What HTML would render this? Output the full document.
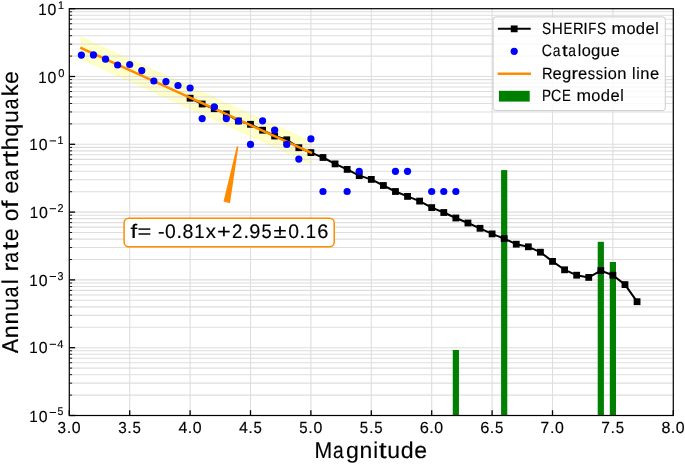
<!DOCTYPE html>
<html><head><meta charset="utf-8"><style>
html,body{margin:0;padding:0;background:#fff;}
svg{display:block;will-change:transform;}
text{font-family:"Liberation Sans",sans-serif;text-rendering:geometricPrecision;}
</style></head><body>
<svg width="685" height="464" viewBox="0 0 685 464">
<defs><filter id="soft" x="0" y="0" width="685" height="464" filterUnits="userSpaceOnUse"><feGaussianBlur stdDeviation="0.3"/></filter></defs>
<rect width="685" height="464" fill="#fff"/>
<g filter="url(#soft)">
<polygon points="81.38,37.39 310.90,141.73 310.90,163.43 81.38,59.08" fill="#ffff00" fill-opacity="0.2" stroke="#ffff00" stroke-opacity="0.2" stroke-width="1.33"/>
<line x1="69.30" y1="8.70" x2="69.30" y2="415.50" stroke="#dedede" stroke-width="1.1"/>
<line x1="129.70" y1="8.70" x2="129.70" y2="415.50" stroke="#dedede" stroke-width="1.1"/>
<line x1="190.10" y1="8.70" x2="190.10" y2="415.50" stroke="#dedede" stroke-width="1.1"/>
<line x1="250.50" y1="8.70" x2="250.50" y2="415.50" stroke="#dedede" stroke-width="1.1"/>
<line x1="310.90" y1="8.70" x2="310.90" y2="415.50" stroke="#dedede" stroke-width="1.1"/>
<line x1="371.30" y1="8.70" x2="371.30" y2="415.50" stroke="#dedede" stroke-width="1.1"/>
<line x1="431.70" y1="8.70" x2="431.70" y2="415.50" stroke="#dedede" stroke-width="1.1"/>
<line x1="492.10" y1="8.70" x2="492.10" y2="415.50" stroke="#dedede" stroke-width="1.1"/>
<line x1="552.50" y1="8.70" x2="552.50" y2="415.50" stroke="#dedede" stroke-width="1.1"/>
<line x1="612.90" y1="8.70" x2="612.90" y2="415.50" stroke="#dedede" stroke-width="1.1"/>
<line x1="673.30" y1="8.70" x2="673.30" y2="415.50" stroke="#dedede" stroke-width="1.1"/>
<line x1="69.30" y1="415.50" x2="673.30" y2="415.50" stroke="#dedede" stroke-width="1.1"/>
<line x1="69.30" y1="395.09" x2="673.30" y2="395.09" stroke="#dedede" stroke-width="1.1"/>
<line x1="69.30" y1="383.15" x2="673.30" y2="383.15" stroke="#dedede" stroke-width="1.1"/>
<line x1="69.30" y1="374.68" x2="673.30" y2="374.68" stroke="#dedede" stroke-width="1.1"/>
<line x1="69.30" y1="368.11" x2="673.30" y2="368.11" stroke="#dedede" stroke-width="1.1"/>
<line x1="69.30" y1="362.74" x2="673.30" y2="362.74" stroke="#dedede" stroke-width="1.1"/>
<line x1="69.30" y1="358.20" x2="673.30" y2="358.20" stroke="#dedede" stroke-width="1.1"/>
<line x1="69.30" y1="354.27" x2="673.30" y2="354.27" stroke="#dedede" stroke-width="1.1"/>
<line x1="69.30" y1="350.80" x2="673.30" y2="350.80" stroke="#dedede" stroke-width="1.1"/>
<line x1="69.30" y1="347.70" x2="673.30" y2="347.70" stroke="#dedede" stroke-width="1.1"/>
<line x1="69.30" y1="327.29" x2="673.30" y2="327.29" stroke="#dedede" stroke-width="1.1"/>
<line x1="69.30" y1="315.35" x2="673.30" y2="315.35" stroke="#dedede" stroke-width="1.1"/>
<line x1="69.30" y1="306.88" x2="673.30" y2="306.88" stroke="#dedede" stroke-width="1.1"/>
<line x1="69.30" y1="300.31" x2="673.30" y2="300.31" stroke="#dedede" stroke-width="1.1"/>
<line x1="69.30" y1="294.94" x2="673.30" y2="294.94" stroke="#dedede" stroke-width="1.1"/>
<line x1="69.30" y1="290.40" x2="673.30" y2="290.40" stroke="#dedede" stroke-width="1.1"/>
<line x1="69.30" y1="286.47" x2="673.30" y2="286.47" stroke="#dedede" stroke-width="1.1"/>
<line x1="69.30" y1="283.00" x2="673.30" y2="283.00" stroke="#dedede" stroke-width="1.1"/>
<line x1="69.30" y1="279.90" x2="673.30" y2="279.90" stroke="#dedede" stroke-width="1.1"/>
<line x1="69.30" y1="259.49" x2="673.30" y2="259.49" stroke="#dedede" stroke-width="1.1"/>
<line x1="69.30" y1="247.55" x2="673.30" y2="247.55" stroke="#dedede" stroke-width="1.1"/>
<line x1="69.30" y1="239.08" x2="673.30" y2="239.08" stroke="#dedede" stroke-width="1.1"/>
<line x1="69.30" y1="232.51" x2="673.30" y2="232.51" stroke="#dedede" stroke-width="1.1"/>
<line x1="69.30" y1="227.14" x2="673.30" y2="227.14" stroke="#dedede" stroke-width="1.1"/>
<line x1="69.30" y1="222.60" x2="673.30" y2="222.60" stroke="#dedede" stroke-width="1.1"/>
<line x1="69.30" y1="218.67" x2="673.30" y2="218.67" stroke="#dedede" stroke-width="1.1"/>
<line x1="69.30" y1="215.20" x2="673.30" y2="215.20" stroke="#dedede" stroke-width="1.1"/>
<line x1="69.30" y1="212.10" x2="673.30" y2="212.10" stroke="#dedede" stroke-width="1.1"/>
<line x1="69.30" y1="191.69" x2="673.30" y2="191.69" stroke="#dedede" stroke-width="1.1"/>
<line x1="69.30" y1="179.75" x2="673.30" y2="179.75" stroke="#dedede" stroke-width="1.1"/>
<line x1="69.30" y1="171.28" x2="673.30" y2="171.28" stroke="#dedede" stroke-width="1.1"/>
<line x1="69.30" y1="164.71" x2="673.30" y2="164.71" stroke="#dedede" stroke-width="1.1"/>
<line x1="69.30" y1="159.34" x2="673.30" y2="159.34" stroke="#dedede" stroke-width="1.1"/>
<line x1="69.30" y1="154.80" x2="673.30" y2="154.80" stroke="#dedede" stroke-width="1.1"/>
<line x1="69.30" y1="150.87" x2="673.30" y2="150.87" stroke="#dedede" stroke-width="1.1"/>
<line x1="69.30" y1="147.40" x2="673.30" y2="147.40" stroke="#dedede" stroke-width="1.1"/>
<line x1="69.30" y1="144.30" x2="673.30" y2="144.30" stroke="#dedede" stroke-width="1.1"/>
<line x1="69.30" y1="123.89" x2="673.30" y2="123.89" stroke="#dedede" stroke-width="1.1"/>
<line x1="69.30" y1="111.95" x2="673.30" y2="111.95" stroke="#dedede" stroke-width="1.1"/>
<line x1="69.30" y1="103.48" x2="673.30" y2="103.48" stroke="#dedede" stroke-width="1.1"/>
<line x1="69.30" y1="96.91" x2="673.30" y2="96.91" stroke="#dedede" stroke-width="1.1"/>
<line x1="69.30" y1="91.54" x2="673.30" y2="91.54" stroke="#dedede" stroke-width="1.1"/>
<line x1="69.30" y1="87.00" x2="673.30" y2="87.00" stroke="#dedede" stroke-width="1.1"/>
<line x1="69.30" y1="83.07" x2="673.30" y2="83.07" stroke="#dedede" stroke-width="1.1"/>
<line x1="69.30" y1="79.60" x2="673.30" y2="79.60" stroke="#dedede" stroke-width="1.1"/>
<line x1="69.30" y1="76.50" x2="673.30" y2="76.50" stroke="#dedede" stroke-width="1.1"/>
<line x1="69.30" y1="56.09" x2="673.30" y2="56.09" stroke="#dedede" stroke-width="1.1"/>
<line x1="69.30" y1="44.15" x2="673.30" y2="44.15" stroke="#dedede" stroke-width="1.1"/>
<line x1="69.30" y1="35.68" x2="673.30" y2="35.68" stroke="#dedede" stroke-width="1.1"/>
<line x1="69.30" y1="29.11" x2="673.30" y2="29.11" stroke="#dedede" stroke-width="1.1"/>
<line x1="69.30" y1="23.74" x2="673.30" y2="23.74" stroke="#dedede" stroke-width="1.1"/>
<line x1="69.30" y1="19.20" x2="673.30" y2="19.20" stroke="#dedede" stroke-width="1.1"/>
<line x1="69.30" y1="15.27" x2="673.30" y2="15.27" stroke="#dedede" stroke-width="1.1"/>
<line x1="69.30" y1="11.80" x2="673.30" y2="11.80" stroke="#dedede" stroke-width="1.1"/>
<line x1="69.30" y1="415.50" x2="69.30" y2="410.20" stroke="#000" stroke-width="1.3"/>
<line x1="129.70" y1="415.50" x2="129.70" y2="410.20" stroke="#000" stroke-width="1.3"/>
<line x1="190.10" y1="415.50" x2="190.10" y2="410.20" stroke="#000" stroke-width="1.3"/>
<line x1="250.50" y1="415.50" x2="250.50" y2="410.20" stroke="#000" stroke-width="1.3"/>
<line x1="310.90" y1="415.50" x2="310.90" y2="410.20" stroke="#000" stroke-width="1.3"/>
<line x1="371.30" y1="415.50" x2="371.30" y2="410.20" stroke="#000" stroke-width="1.3"/>
<line x1="431.70" y1="415.50" x2="431.70" y2="410.20" stroke="#000" stroke-width="1.3"/>
<line x1="492.10" y1="415.50" x2="492.10" y2="410.20" stroke="#000" stroke-width="1.3"/>
<line x1="552.50" y1="415.50" x2="552.50" y2="410.20" stroke="#000" stroke-width="1.3"/>
<line x1="612.90" y1="415.50" x2="612.90" y2="410.20" stroke="#000" stroke-width="1.3"/>
<line x1="673.30" y1="415.50" x2="673.30" y2="410.20" stroke="#000" stroke-width="1.3"/>
<line x1="69.30" y1="415.50" x2="75.10" y2="415.50" stroke="#000" stroke-width="1.3"/>
<line x1="69.30" y1="395.09" x2="72.10" y2="395.09" stroke="#000" stroke-width="0.9"/>
<line x1="69.30" y1="383.15" x2="72.10" y2="383.15" stroke="#000" stroke-width="0.9"/>
<line x1="69.30" y1="374.68" x2="72.10" y2="374.68" stroke="#000" stroke-width="0.9"/>
<line x1="69.30" y1="368.11" x2="72.10" y2="368.11" stroke="#000" stroke-width="0.9"/>
<line x1="69.30" y1="362.74" x2="72.10" y2="362.74" stroke="#000" stroke-width="0.9"/>
<line x1="69.30" y1="358.20" x2="72.10" y2="358.20" stroke="#000" stroke-width="0.9"/>
<line x1="69.30" y1="354.27" x2="72.10" y2="354.27" stroke="#000" stroke-width="0.9"/>
<line x1="69.30" y1="350.80" x2="72.10" y2="350.80" stroke="#000" stroke-width="0.9"/>
<line x1="69.30" y1="347.70" x2="75.10" y2="347.70" stroke="#000" stroke-width="1.3"/>
<line x1="69.30" y1="327.29" x2="72.10" y2="327.29" stroke="#000" stroke-width="0.9"/>
<line x1="69.30" y1="315.35" x2="72.10" y2="315.35" stroke="#000" stroke-width="0.9"/>
<line x1="69.30" y1="306.88" x2="72.10" y2="306.88" stroke="#000" stroke-width="0.9"/>
<line x1="69.30" y1="300.31" x2="72.10" y2="300.31" stroke="#000" stroke-width="0.9"/>
<line x1="69.30" y1="294.94" x2="72.10" y2="294.94" stroke="#000" stroke-width="0.9"/>
<line x1="69.30" y1="290.40" x2="72.10" y2="290.40" stroke="#000" stroke-width="0.9"/>
<line x1="69.30" y1="286.47" x2="72.10" y2="286.47" stroke="#000" stroke-width="0.9"/>
<line x1="69.30" y1="283.00" x2="72.10" y2="283.00" stroke="#000" stroke-width="0.9"/>
<line x1="69.30" y1="279.90" x2="75.10" y2="279.90" stroke="#000" stroke-width="1.3"/>
<line x1="69.30" y1="259.49" x2="72.10" y2="259.49" stroke="#000" stroke-width="0.9"/>
<line x1="69.30" y1="247.55" x2="72.10" y2="247.55" stroke="#000" stroke-width="0.9"/>
<line x1="69.30" y1="239.08" x2="72.10" y2="239.08" stroke="#000" stroke-width="0.9"/>
<line x1="69.30" y1="232.51" x2="72.10" y2="232.51" stroke="#000" stroke-width="0.9"/>
<line x1="69.30" y1="227.14" x2="72.10" y2="227.14" stroke="#000" stroke-width="0.9"/>
<line x1="69.30" y1="222.60" x2="72.10" y2="222.60" stroke="#000" stroke-width="0.9"/>
<line x1="69.30" y1="218.67" x2="72.10" y2="218.67" stroke="#000" stroke-width="0.9"/>
<line x1="69.30" y1="215.20" x2="72.10" y2="215.20" stroke="#000" stroke-width="0.9"/>
<line x1="69.30" y1="212.10" x2="75.10" y2="212.10" stroke="#000" stroke-width="1.3"/>
<line x1="69.30" y1="191.69" x2="72.10" y2="191.69" stroke="#000" stroke-width="0.9"/>
<line x1="69.30" y1="179.75" x2="72.10" y2="179.75" stroke="#000" stroke-width="0.9"/>
<line x1="69.30" y1="171.28" x2="72.10" y2="171.28" stroke="#000" stroke-width="0.9"/>
<line x1="69.30" y1="164.71" x2="72.10" y2="164.71" stroke="#000" stroke-width="0.9"/>
<line x1="69.30" y1="159.34" x2="72.10" y2="159.34" stroke="#000" stroke-width="0.9"/>
<line x1="69.30" y1="154.80" x2="72.10" y2="154.80" stroke="#000" stroke-width="0.9"/>
<line x1="69.30" y1="150.87" x2="72.10" y2="150.87" stroke="#000" stroke-width="0.9"/>
<line x1="69.30" y1="147.40" x2="72.10" y2="147.40" stroke="#000" stroke-width="0.9"/>
<line x1="69.30" y1="144.30" x2="75.10" y2="144.30" stroke="#000" stroke-width="1.3"/>
<line x1="69.30" y1="123.89" x2="72.10" y2="123.89" stroke="#000" stroke-width="0.9"/>
<line x1="69.30" y1="111.95" x2="72.10" y2="111.95" stroke="#000" stroke-width="0.9"/>
<line x1="69.30" y1="103.48" x2="72.10" y2="103.48" stroke="#000" stroke-width="0.9"/>
<line x1="69.30" y1="96.91" x2="72.10" y2="96.91" stroke="#000" stroke-width="0.9"/>
<line x1="69.30" y1="91.54" x2="72.10" y2="91.54" stroke="#000" stroke-width="0.9"/>
<line x1="69.30" y1="87.00" x2="72.10" y2="87.00" stroke="#000" stroke-width="0.9"/>
<line x1="69.30" y1="83.07" x2="72.10" y2="83.07" stroke="#000" stroke-width="0.9"/>
<line x1="69.30" y1="79.60" x2="72.10" y2="79.60" stroke="#000" stroke-width="0.9"/>
<line x1="69.30" y1="76.50" x2="75.10" y2="76.50" stroke="#000" stroke-width="1.3"/>
<line x1="69.30" y1="56.09" x2="72.10" y2="56.09" stroke="#000" stroke-width="0.9"/>
<line x1="69.30" y1="44.15" x2="72.10" y2="44.15" stroke="#000" stroke-width="0.9"/>
<line x1="69.30" y1="35.68" x2="72.10" y2="35.68" stroke="#000" stroke-width="0.9"/>
<line x1="69.30" y1="29.11" x2="72.10" y2="29.11" stroke="#000" stroke-width="0.9"/>
<line x1="69.30" y1="23.74" x2="72.10" y2="23.74" stroke="#000" stroke-width="0.9"/>
<line x1="69.30" y1="19.20" x2="72.10" y2="19.20" stroke="#000" stroke-width="0.9"/>
<line x1="69.30" y1="15.27" x2="72.10" y2="15.27" stroke="#000" stroke-width="0.9"/>
<line x1="69.30" y1="11.80" x2="72.10" y2="11.80" stroke="#000" stroke-width="0.9"/>
<line x1="69.30" y1="8.70" x2="75.10" y2="8.70" stroke="#000" stroke-width="1.3"/>
<rect x="452.76" y="350.00" width="6.2" height="65.50" fill="#008000"/>
<rect x="501.08" y="170.10" width="6.2" height="245.40" fill="#008000"/>
<rect x="597.72" y="241.80" width="6.2" height="173.70" fill="#008000"/>
<rect x="609.80" y="262.00" width="6.2" height="153.50" fill="#008000"/>
<path d="M190.10,98.20 L202.18,104.00 L214.26,108.70 L226.34,113.90 L238.42,121.00 L250.50,124.30 L262.58,130.20 L274.66,136.00 L286.74,139.80 L298.82,147.70 L310.90,152.60 L322.98,157.50 L335.06,163.90 L347.14,169.40 L359.22,175.60 L371.30,179.40 L383.38,185.50 L395.46,191.50 L407.54,196.40 L419.62,201.10 L431.70,207.60 L443.78,212.50 L455.86,218.00 L467.94,223.00 L480.02,228.30 L492.10,233.90 L504.18,238.60 L516.26,244.20 L528.34,246.80 L540.42,252.20 L552.50,261.40 L564.58,269.80 L576.66,275.20 L588.74,277.40 L600.82,270.60 L612.90,275.20 L624.98,284.60 L637.06,301.70" fill="none" stroke="#000" stroke-width="2" stroke-linejoin="round"/>
<rect x="186.70" y="94.80" width="6.8" height="6.8" fill="#000"/>
<rect x="198.78" y="100.60" width="6.8" height="6.8" fill="#000"/>
<rect x="210.86" y="105.30" width="6.8" height="6.8" fill="#000"/>
<rect x="222.94" y="110.50" width="6.8" height="6.8" fill="#000"/>
<rect x="235.02" y="117.60" width="6.8" height="6.8" fill="#000"/>
<rect x="247.10" y="120.90" width="6.8" height="6.8" fill="#000"/>
<rect x="259.18" y="126.80" width="6.8" height="6.8" fill="#000"/>
<rect x="271.26" y="132.60" width="6.8" height="6.8" fill="#000"/>
<rect x="283.34" y="136.40" width="6.8" height="6.8" fill="#000"/>
<rect x="295.42" y="144.30" width="6.8" height="6.8" fill="#000"/>
<rect x="307.50" y="149.20" width="6.8" height="6.8" fill="#000"/>
<rect x="319.58" y="154.10" width="6.8" height="6.8" fill="#000"/>
<rect x="331.66" y="160.50" width="6.8" height="6.8" fill="#000"/>
<rect x="343.74" y="166.00" width="6.8" height="6.8" fill="#000"/>
<rect x="355.82" y="172.20" width="6.8" height="6.8" fill="#000"/>
<rect x="367.90" y="176.00" width="6.8" height="6.8" fill="#000"/>
<rect x="379.98" y="182.10" width="6.8" height="6.8" fill="#000"/>
<rect x="392.06" y="188.10" width="6.8" height="6.8" fill="#000"/>
<rect x="404.14" y="193.00" width="6.8" height="6.8" fill="#000"/>
<rect x="416.22" y="197.70" width="6.8" height="6.8" fill="#000"/>
<rect x="428.30" y="204.20" width="6.8" height="6.8" fill="#000"/>
<rect x="440.38" y="209.10" width="6.8" height="6.8" fill="#000"/>
<rect x="452.46" y="214.60" width="6.8" height="6.8" fill="#000"/>
<rect x="464.54" y="219.60" width="6.8" height="6.8" fill="#000"/>
<rect x="476.62" y="224.90" width="6.8" height="6.8" fill="#000"/>
<rect x="488.70" y="230.50" width="6.8" height="6.8" fill="#000"/>
<rect x="500.78" y="235.20" width="6.8" height="6.8" fill="#000"/>
<rect x="512.86" y="240.80" width="6.8" height="6.8" fill="#000"/>
<rect x="524.94" y="243.40" width="6.8" height="6.8" fill="#000"/>
<rect x="537.02" y="248.80" width="6.8" height="6.8" fill="#000"/>
<rect x="549.10" y="258.00" width="6.8" height="6.8" fill="#000"/>
<rect x="561.18" y="266.40" width="6.8" height="6.8" fill="#000"/>
<rect x="573.26" y="271.80" width="6.8" height="6.8" fill="#000"/>
<rect x="585.34" y="274.00" width="6.8" height="6.8" fill="#000"/>
<rect x="597.42" y="267.20" width="6.8" height="6.8" fill="#000"/>
<rect x="609.50" y="271.80" width="6.8" height="6.8" fill="#000"/>
<rect x="621.58" y="281.20" width="6.8" height="6.8" fill="#000"/>
<rect x="633.66" y="298.30" width="6.8" height="6.8" fill="#000"/>
<line x1="81.38" y1="48.24" x2="310.90" y2="152.58" stroke="#ff8c00" stroke-width="2.5" stroke-linecap="square"/>
<circle cx="81.38" cy="55.10" r="3.6" fill="#0000ff"/>
<circle cx="93.46" cy="54.90" r="3.6" fill="#0000ff"/>
<circle cx="105.54" cy="59.20" r="3.6" fill="#0000ff"/>
<circle cx="117.62" cy="65.00" r="3.6" fill="#0000ff"/>
<circle cx="129.70" cy="64.50" r="3.6" fill="#0000ff"/>
<circle cx="141.78" cy="70.60" r="3.6" fill="#0000ff"/>
<circle cx="153.86" cy="81.00" r="3.6" fill="#0000ff"/>
<circle cx="165.94" cy="81.60" r="3.6" fill="#0000ff"/>
<circle cx="178.02" cy="85.50" r="3.6" fill="#0000ff"/>
<circle cx="190.10" cy="88.00" r="3.6" fill="#0000ff"/>
<circle cx="202.18" cy="118.60" r="3.6" fill="#0000ff"/>
<circle cx="214.26" cy="106.80" r="3.6" fill="#0000ff"/>
<circle cx="226.34" cy="118.60" r="3.6" fill="#0000ff"/>
<circle cx="238.42" cy="121.00" r="3.6" fill="#0000ff"/>
<circle cx="250.50" cy="144.40" r="3.6" fill="#0000ff"/>
<circle cx="262.58" cy="120.80" r="3.6" fill="#0000ff"/>
<circle cx="274.66" cy="130.20" r="3.6" fill="#0000ff"/>
<circle cx="286.74" cy="144.40" r="3.6" fill="#0000ff"/>
<circle cx="298.82" cy="159.10" r="3.6" fill="#0000ff"/>
<circle cx="310.90" cy="138.90" r="3.6" fill="#0000ff"/>
<circle cx="322.98" cy="191.50" r="3.6" fill="#0000ff"/>
<circle cx="347.14" cy="191.50" r="3.6" fill="#0000ff"/>
<circle cx="359.22" cy="171.30" r="3.6" fill="#0000ff"/>
<circle cx="395.46" cy="171.30" r="3.6" fill="#0000ff"/>
<circle cx="407.54" cy="171.30" r="3.6" fill="#0000ff"/>
<circle cx="431.70" cy="191.50" r="3.6" fill="#0000ff"/>
<circle cx="443.78" cy="191.50" r="3.6" fill="#0000ff"/>
<circle cx="455.86" cy="191.50" r="3.6" fill="#0000ff"/>
<polygon points="223.5,201.6 230.0,203.2 238.4,146.6 236.8,146.6" fill="#ff8c00"/>
<rect x="124.1" y="218.2" width="210.1" height="28.6" rx="4.7" ry="4.7" fill="#fff" stroke="#ff8c00" stroke-width="1.5"/>
<text y="238.20" font-size="19.58" fill="#000" stroke="#000" stroke-width="0.15"><tspan x="130.46" textLength="6.68" lengthAdjust="spacingAndGlyphs">f</tspan><tspan x="137.62" textLength="13.79" lengthAdjust="spacingAndGlyphs">=</tspan><tspan x="152.18"> </tspan><tspan x="158.02" textLength="6.58" lengthAdjust="spacingAndGlyphs">-</tspan><tspan x="165.07" textLength="10.74" lengthAdjust="spacingAndGlyphs">0</tspan><tspan x="176.42" textLength="5.51" lengthAdjust="spacingAndGlyphs">.</tspan><tspan x="182.49" textLength="10.86" lengthAdjust="spacingAndGlyphs">8</tspan><tspan x="194.36" textLength="10.26" lengthAdjust="spacingAndGlyphs">1</tspan><tspan x="205.71" textLength="10.16" lengthAdjust="spacingAndGlyphs">x</tspan><tspan x="217.05" textLength="13.79" lengthAdjust="spacingAndGlyphs">+</tspan><tspan x="232.02" textLength="10.35" lengthAdjust="spacingAndGlyphs">2</tspan><tspan x="243.42" textLength="5.51" lengthAdjust="spacingAndGlyphs">.</tspan><tspan x="249.31" textLength="11.09" lengthAdjust="spacingAndGlyphs">9</tspan><tspan x="261.43" textLength="10.14" lengthAdjust="spacingAndGlyphs">5</tspan><tspan x="273.60" textLength="12.96" lengthAdjust="spacingAndGlyphs">±</tspan><tspan x="288.21" textLength="10.74" lengthAdjust="spacingAndGlyphs">0</tspan><tspan x="299.56" textLength="5.51" lengthAdjust="spacingAndGlyphs">.</tspan><tspan x="305.85" textLength="10.26" lengthAdjust="spacingAndGlyphs">1</tspan><tspan x="317.16" textLength="11.12" lengthAdjust="spacingAndGlyphs">6</tspan></text>
<rect x="69.30" y="8.70" width="604.00" height="406.80" fill="none" stroke="#000" stroke-width="1.2"/>
<rect x="493.1" y="16.9" width="172.2" height="93.7" rx="2.6" ry="2.6" fill="#fff" fill-opacity="0.8" stroke="#cccccc" stroke-width="1"/>
<line x1="498.9" y1="28.85" x2="529.7" y2="28.85" stroke="#000" stroke-width="2" stroke-linecap="square"/>
<rect x="510.80" y="25.45" width="6.8" height="6.8" fill="#000"/>
<circle cx="514.2" cy="51.3" r="3.6" fill="#0000ff"/>
<line x1="498.9" y1="73.75" x2="529.7" y2="73.75" stroke="#ff8c00" stroke-width="2.5" stroke-linecap="square"/>
<rect x="498.9" y="90.8" width="30.8" height="10.8" fill="#008000"/>
<text y="33.70" font-size="16.42" fill="#000" stroke="#000" stroke-width="0.15"><tspan x="542.09" textLength="9.13" lengthAdjust="spacingAndGlyphs">S</tspan><tspan x="551.70" textLength="11.03" lengthAdjust="spacingAndGlyphs">H</tspan><tspan x="563.40" textLength="8.87" lengthAdjust="spacingAndGlyphs">E</tspan><tspan x="572.99" textLength="10.60" lengthAdjust="spacingAndGlyphs">R</tspan><tspan x="583.36" textLength="4.51" lengthAdjust="spacingAndGlyphs">I</tspan><tspan x="588.30" textLength="8.04" lengthAdjust="spacingAndGlyphs">F</tspan><tspan x="597.10" textLength="9.13" lengthAdjust="spacingAndGlyphs">S</tspan><tspan x="606.45"> </tspan><tspan x="611.56" textLength="14.57" lengthAdjust="spacingAndGlyphs">m</tspan><tspan x="626.44" textLength="9.08" lengthAdjust="spacingAndGlyphs">o</tspan><tspan x="635.82" textLength="9.28" lengthAdjust="spacingAndGlyphs">d</tspan><tspan x="645.56" textLength="9.22" lengthAdjust="spacingAndGlyphs">e</tspan><tspan x="655.25" textLength="3.49" lengthAdjust="spacingAndGlyphs">l</tspan></text>
<text y="56.15" font-size="16.42" fill="#000" stroke="#000" stroke-width="0.15"><tspan x="541.84" textLength="10.29" lengthAdjust="spacingAndGlyphs">C</tspan><tspan x="552.75" textLength="7.68" lengthAdjust="spacingAndGlyphs">a</tspan><tspan x="561.93" textLength="5.70" lengthAdjust="spacingAndGlyphs">t</tspan><tspan x="568.18" textLength="7.68" lengthAdjust="spacingAndGlyphs">a</tspan><tspan x="577.64" textLength="3.49" lengthAdjust="spacingAndGlyphs">l</tspan><tspan x="581.68" textLength="9.08" lengthAdjust="spacingAndGlyphs">o</tspan><tspan x="591.05" textLength="9.28" lengthAdjust="spacingAndGlyphs">g</tspan><tspan x="600.88" textLength="9.20" lengthAdjust="spacingAndGlyphs">u</tspan><tspan x="610.52" textLength="9.22" lengthAdjust="spacingAndGlyphs">e</tspan></text>
<text y="78.60" font-size="16.42" fill="#000" stroke="#000" stroke-width="0.15"><tspan x="542.00" textLength="10.60" lengthAdjust="spacingAndGlyphs">R</tspan><tspan x="552.51" textLength="9.22" lengthAdjust="spacingAndGlyphs">e</tspan><tspan x="561.96" textLength="9.28" lengthAdjust="spacingAndGlyphs">g</tspan><tspan x="571.64" textLength="6.55" lengthAdjust="spacingAndGlyphs">r</tspan><tspan x="578.01" textLength="9.22" lengthAdjust="spacingAndGlyphs">e</tspan><tspan x="587.73" textLength="7.36" lengthAdjust="spacingAndGlyphs">s</tspan><tspan x="595.73" textLength="7.36" lengthAdjust="spacingAndGlyphs">s</tspan><tspan x="603.70" textLength="3.49" lengthAdjust="spacingAndGlyphs">i</tspan><tspan x="607.73" textLength="9.08" lengthAdjust="spacingAndGlyphs">o</tspan><tspan x="617.25" textLength="9.20" lengthAdjust="spacingAndGlyphs">n</tspan><tspan x="626.69"> </tspan><tspan x="631.96" textLength="3.49" lengthAdjust="spacingAndGlyphs">l</tspan><tspan x="636.23" textLength="3.49" lengthAdjust="spacingAndGlyphs">i</tspan><tspan x="640.39" textLength="9.20" lengthAdjust="spacingAndGlyphs">n</tspan><tspan x="649.97" textLength="9.22" lengthAdjust="spacingAndGlyphs">e</tspan></text>
<text y="101.05" font-size="16.42" fill="#000" stroke="#000" stroke-width="0.15"><tspan x="542.09" textLength="9.05" lengthAdjust="spacingAndGlyphs">P</tspan><tspan x="551.09" textLength="10.29" lengthAdjust="spacingAndGlyphs">C</tspan><tspan x="562.09" textLength="8.87" lengthAdjust="spacingAndGlyphs">E</tspan><tspan x="571.37"> </tspan><tspan x="576.49" textLength="14.57" lengthAdjust="spacingAndGlyphs">m</tspan><tspan x="591.37" textLength="9.08" lengthAdjust="spacingAndGlyphs">o</tspan><tspan x="600.74" textLength="9.28" lengthAdjust="spacingAndGlyphs">d</tspan><tspan x="610.48" textLength="9.22" lengthAdjust="spacingAndGlyphs">e</tspan><tspan x="620.17" textLength="3.49" lengthAdjust="spacingAndGlyphs">l</tspan></text>
<text y="433.00" font-size="16.16" fill="#000" stroke="#000" stroke-width="0.15"><tspan x="57.59" textLength="8.50" lengthAdjust="spacingAndGlyphs">3</tspan><tspan x="66.75" textLength="4.54" lengthAdjust="spacingAndGlyphs">.</tspan><tspan x="71.80" textLength="8.85" lengthAdjust="spacingAndGlyphs">0</tspan></text>
<text y="433.00" font-size="16.16" fill="#000" stroke="#000" stroke-width="0.15"><tspan x="118.15" textLength="8.50" lengthAdjust="spacingAndGlyphs">3</tspan><tspan x="127.31" textLength="4.54" lengthAdjust="spacingAndGlyphs">.</tspan><tspan x="132.55" textLength="8.35" lengthAdjust="spacingAndGlyphs">5</tspan></text>
<text y="433.00" font-size="16.16" fill="#000" stroke="#000" stroke-width="0.15"><tspan x="178.40" textLength="8.85" lengthAdjust="spacingAndGlyphs">4</tspan><tspan x="187.76" textLength="4.54" lengthAdjust="spacingAndGlyphs">.</tspan><tspan x="192.81" textLength="8.85" lengthAdjust="spacingAndGlyphs">0</tspan></text>
<text y="433.00" font-size="16.16" fill="#000" stroke="#000" stroke-width="0.15"><tspan x="238.96" textLength="8.85" lengthAdjust="spacingAndGlyphs">4</tspan><tspan x="248.31" textLength="4.54" lengthAdjust="spacingAndGlyphs">.</tspan><tspan x="253.55" textLength="8.35" lengthAdjust="spacingAndGlyphs">5</tspan></text>
<text y="433.00" font-size="16.16" fill="#000" stroke="#000" stroke-width="0.15"><tspan x="299.18" textLength="8.35" lengthAdjust="spacingAndGlyphs">5</tspan><tspan x="308.34" textLength="4.54" lengthAdjust="spacingAndGlyphs">.</tspan><tspan x="313.39" textLength="8.85" lengthAdjust="spacingAndGlyphs">0</tspan></text>
<text y="433.00" font-size="16.16" fill="#000" stroke="#000" stroke-width="0.15"><tspan x="359.73" textLength="8.35" lengthAdjust="spacingAndGlyphs">5</tspan><tspan x="368.90" textLength="4.54" lengthAdjust="spacingAndGlyphs">.</tspan><tspan x="374.14" textLength="8.35" lengthAdjust="spacingAndGlyphs">5</tspan></text>
<text y="433.00" font-size="16.16" fill="#000" stroke="#000" stroke-width="0.15"><tspan x="419.68" textLength="9.16" lengthAdjust="spacingAndGlyphs">6</tspan><tspan x="429.20" textLength="4.54" lengthAdjust="spacingAndGlyphs">.</tspan><tspan x="434.25" textLength="8.85" lengthAdjust="spacingAndGlyphs">0</tspan></text>
<text y="433.00" font-size="16.16" fill="#000" stroke="#000" stroke-width="0.15"><tspan x="480.24" textLength="9.16" lengthAdjust="spacingAndGlyphs">6</tspan><tspan x="489.76" textLength="4.54" lengthAdjust="spacingAndGlyphs">.</tspan><tspan x="495.00" textLength="8.35" lengthAdjust="spacingAndGlyphs">5</tspan></text>
<text y="433.00" font-size="16.16" fill="#000" stroke="#000" stroke-width="0.15"><tspan x="540.62" textLength="8.66" lengthAdjust="spacingAndGlyphs">7</tspan><tspan x="549.90" textLength="4.54" lengthAdjust="spacingAndGlyphs">.</tspan><tspan x="554.96" textLength="8.85" lengthAdjust="spacingAndGlyphs">0</tspan></text>
<text y="433.00" font-size="16.16" fill="#000" stroke="#000" stroke-width="0.15"><tspan x="601.17" textLength="8.66" lengthAdjust="spacingAndGlyphs">7</tspan><tspan x="610.46" textLength="4.54" lengthAdjust="spacingAndGlyphs">.</tspan><tspan x="615.70" textLength="8.35" lengthAdjust="spacingAndGlyphs">5</tspan></text>
<text y="433.00" font-size="16.16" fill="#000" stroke="#000" stroke-width="0.15"><tspan x="661.41" textLength="8.95" lengthAdjust="spacingAndGlyphs">8</tspan><tspan x="670.81" textLength="4.54" lengthAdjust="spacingAndGlyphs">.</tspan><tspan x="675.86" textLength="8.85" lengthAdjust="spacingAndGlyphs">0</tspan></text>
<text y="422.00" font-size="16.16" fill="#000" stroke="#000" stroke-width="0.15"><tspan x="29.24" textLength="8.45" lengthAdjust="spacingAndGlyphs">1</tspan><tspan x="38.72" textLength="8.85" lengthAdjust="spacingAndGlyphs">0</tspan></text>
<line x1="49.7" y1="412.50" x2="56.0" y2="412.50" stroke="#000" stroke-width="1.05"/>
<text y="415.40" font-size="11.31" fill="#000" stroke="#000" stroke-width="0.15"><tspan x="57.59" textLength="5.85" lengthAdjust="spacingAndGlyphs">5</tspan></text>
<text y="353.25" font-size="16.16" fill="#000" stroke="#000" stroke-width="0.15"><tspan x="29.24" textLength="8.45" lengthAdjust="spacingAndGlyphs">1</tspan><tspan x="38.72" textLength="8.85" lengthAdjust="spacingAndGlyphs">0</tspan></text>
<line x1="49.7" y1="344.30" x2="56.0" y2="344.30" stroke="#000" stroke-width="1.05"/>
<text y="347.80" font-size="11.31" fill="#000" stroke="#000" stroke-width="0.15"><tspan x="57.13" textLength="6.20" lengthAdjust="spacingAndGlyphs">4</tspan></text>
<text y="285.90" font-size="16.16" fill="#000" stroke="#000" stroke-width="0.15"><tspan x="29.24" textLength="8.45" lengthAdjust="spacingAndGlyphs">1</tspan><tspan x="38.72" textLength="8.85" lengthAdjust="spacingAndGlyphs">0</tspan></text>
<line x1="49.7" y1="276.50" x2="56.0" y2="276.50" stroke="#000" stroke-width="1.05"/>
<text y="280.10" font-size="11.31" fill="#000" stroke="#000" stroke-width="0.15"><tspan x="57.52" textLength="5.95" lengthAdjust="spacingAndGlyphs">3</tspan></text>
<text y="218.40" font-size="16.16" fill="#000" stroke="#000" stroke-width="0.15"><tspan x="29.64" textLength="8.45" lengthAdjust="spacingAndGlyphs">1</tspan><tspan x="39.12" textLength="8.85" lengthAdjust="spacingAndGlyphs">0</tspan></text>
<line x1="49.7" y1="208.70" x2="56.0" y2="208.70" stroke="#000" stroke-width="1.05"/>
<text y="211.75" font-size="11.31" fill="#000" stroke="#000" stroke-width="0.15"><tspan x="57.57" textLength="5.97" lengthAdjust="spacingAndGlyphs">2</tspan></text>
<text y="150.40" font-size="16.16" fill="#000" stroke="#000" stroke-width="0.15"><tspan x="29.24" textLength="8.45" lengthAdjust="spacingAndGlyphs">1</tspan><tspan x="38.72" textLength="8.85" lengthAdjust="spacingAndGlyphs">0</tspan></text>
<line x1="49.7" y1="140.90" x2="56.0" y2="140.90" stroke="#000" stroke-width="1.05"/>
<text y="143.70" font-size="11.31" fill="#000" stroke="#000" stroke-width="0.15"><tspan x="57.60" textLength="5.92" lengthAdjust="spacingAndGlyphs">1</tspan></text>
<text y="83.00" font-size="16.16" fill="#000" stroke="#000" stroke-width="0.15"><tspan x="38.14" textLength="8.45" lengthAdjust="spacingAndGlyphs">1</tspan><tspan x="47.62" textLength="8.85" lengthAdjust="spacingAndGlyphs">0</tspan></text>
<text y="76.80" font-size="11.31" fill="#000" stroke="#000" stroke-width="0.15"><tspan x="58.16" textLength="6.20" lengthAdjust="spacingAndGlyphs">0</tspan></text>
<text y="14.70" font-size="16.16" fill="#000" stroke="#000" stroke-width="0.15"><tspan x="38.14" textLength="8.45" lengthAdjust="spacingAndGlyphs">1</tspan><tspan x="47.62" textLength="8.85" lengthAdjust="spacingAndGlyphs">0</tspan></text>
<text y="9.00" font-size="11.31" fill="#000" stroke="#000" stroke-width="0.15"><tspan x="58.09" textLength="5.92" lengthAdjust="spacingAndGlyphs">1</tspan></text>
<text y="458.00" font-size="22.93" fill="#000" stroke="#000" stroke-width="0.15"><tspan x="314.57" textLength="17.72" lengthAdjust="spacingAndGlyphs">M</tspan><tspan x="333.09" textLength="10.67" lengthAdjust="spacingAndGlyphs">a</tspan><tspan x="345.90" textLength="12.89" lengthAdjust="spacingAndGlyphs">g</tspan><tspan x="359.64" textLength="12.79" lengthAdjust="spacingAndGlyphs">n</tspan><tspan x="373.30" textLength="4.84" lengthAdjust="spacingAndGlyphs">i</tspan><tspan x="378.82" textLength="7.92" lengthAdjust="spacingAndGlyphs">t</tspan><tspan x="387.36" textLength="12.79" lengthAdjust="spacingAndGlyphs">u</tspan><tspan x="400.76" textLength="12.89" lengthAdjust="spacingAndGlyphs">d</tspan><tspan x="414.30" textLength="12.81" lengthAdjust="spacingAndGlyphs">e</tspan></text>
<g transform="translate(17.8,353.11) rotate(-90)"><text y="0.00" font-size="22.93" fill="#000" stroke="#000" stroke-width="0.15"><tspan x="-0.04" textLength="14.41" lengthAdjust="spacingAndGlyphs">A</tspan><tspan x="14.91" textLength="12.86" lengthAdjust="spacingAndGlyphs">n</tspan><tspan x="28.51" textLength="12.86" lengthAdjust="spacingAndGlyphs">n</tspan><tspan x="42.01" textLength="12.86" lengthAdjust="spacingAndGlyphs">u</tspan><tspan x="55.74" textLength="10.72" lengthAdjust="spacingAndGlyphs">a</tspan><tspan x="68.96" textLength="4.87" lengthAdjust="spacingAndGlyphs">l</tspan><tspan x="74.38"> </tspan><tspan x="81.31" textLength="9.15" lengthAdjust="spacingAndGlyphs">r</tspan><tspan x="90.48" textLength="10.72" lengthAdjust="spacingAndGlyphs">a</tspan><tspan x="103.29" textLength="7.96" lengthAdjust="spacingAndGlyphs">t</tspan><tspan x="111.76" textLength="12.88" lengthAdjust="spacingAndGlyphs">e</tspan><tspan x="124.75"> </tspan><tspan x="131.79" textLength="12.68" lengthAdjust="spacingAndGlyphs">o</tspan><tspan x="144.78" textLength="7.82" lengthAdjust="spacingAndGlyphs">f</tspan><tspan x="152.24"> </tspan><tspan x="159.25" textLength="12.88" lengthAdjust="spacingAndGlyphs">e</tspan><tspan x="172.72" textLength="10.72" lengthAdjust="spacingAndGlyphs">a</tspan><tspan x="185.51" textLength="9.15" lengthAdjust="spacingAndGlyphs">r</tspan><tspan x="194.35" textLength="7.96" lengthAdjust="spacingAndGlyphs">t</tspan><tspan x="202.95" textLength="12.95" lengthAdjust="spacingAndGlyphs">h</tspan><tspan x="216.41" textLength="12.95" lengthAdjust="spacingAndGlyphs">q</tspan><tspan x="230.14" textLength="12.86" lengthAdjust="spacingAndGlyphs">u</tspan><tspan x="243.88" textLength="10.72" lengthAdjust="spacingAndGlyphs">a</tspan><tspan x="256.88" textLength="11.99" lengthAdjust="spacingAndGlyphs">k</tspan><tspan x="269.17" textLength="12.88" lengthAdjust="spacingAndGlyphs">e</tspan></text></g>
</g>
</svg>
</body></html>
